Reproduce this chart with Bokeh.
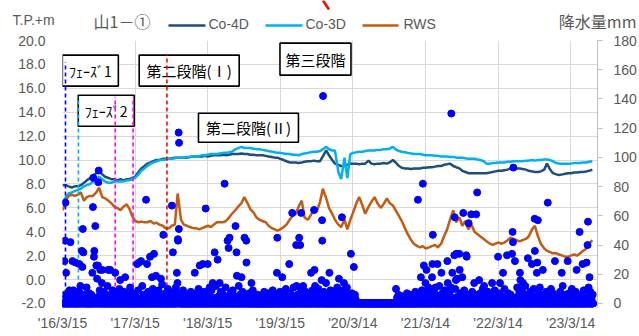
import pandas as pd
from bokeh.plotting import figure
from bokeh.layouts import column
from bokeh.models import (Range1d, LinearAxis, FixedTicker, PrintfTickFormatter, ColumnDataSource)
from bokeh.core.properties import value
from bokeh.embed import file_html
from bokeh.resources import INLINE

# ---------------- data ----------------
x_tick_dates = ["2016-03-15", "2017-03-15", "2018-03-15", "2019-03-15",
                "2020-03-14", "2021-03-14", "2022-03-14", "2023-03-14"]
x_tick_labels = ["'16/3/15", "'17/3/15", "'18/3/15", "'19/3/15",
                 "'20/3/14", "'21/3/14", "'22/3/14", "'23/3/14"]
left_ticks = [-2, 0, 2, 4, 6, 8, 10, 12, 14, 16, 18, 20]
right_ticks = [0, 20, 40, 60, 80, 100, 120, 140, 160, 180]

series_names = ["Co-4D", "Co-3D", "RWS"]

# water levels (T.P.+m), semi-monthly readings (1st / 15th)
co4d_2016 = [7.9, 7.9, 7.8, 7.7, 7.8, 7.8, 7.9, 8.1, 8.3, 8.5, 8.7, 8.9, 9.1, 8.8, 8.6, 8.5, 8.4, 8.4, 8.3]
co4d_2017 = [8.4, 8.3, 8.4, 8.4, 8.5, 8.6, 9.0, 9.3, 9.5, 9.7, 9.8, 9.9, 10.0, 10.0, 10.1, 10.1, 10.1, 10.15, 10.2, 10.2, 10.2, 10.2, 10.2, 10.25]
co4d_2018 = [10.3, 10.3, 10.3, 10.3, 10.35, 10.3, 10.35, 10.4, 10.4, 10.4, 10.45, 10.4, 10.45, 10.5, 10.5, 10.5, 10.55, 10.5, 10.5, 10.45, 10.45, 10.4, 10.4, 10.4]
co4d_2019 = [10.35, 10.3, 10.25, 10.2, 10.2, 10.1, 10.0, 9.9, 9.8, 9.8, 9.8, 9.75, 9.8, 9.85, 9.9, 9.9, 9.95, 9.9, 9.9, 10.3, 10.8, 10.4, 10.0, 9.7]
co4d_2020 = [9.6, 9.5, 9.5, 9.6, 9.7, 9.7, 9.7, 9.65, 9.7, 9.7, 9.95, 9.7, 9.65, 9.7, 9.7, 9.75, 9.7, 9.8, 10.0, 9.8, 9.5, 9.35, 9.3, 9.3]
co4d_2021 = [9.25, 9.3, 9.3, 9.3, 9.35, 9.35, 9.4, 9.4, 9.45, 9.5, 9.5, 9.6, 9.65, 9.7, 9.5, 9.4, 9.3, 9.1, 9.0, 8.9, 8.9, 8.9, 8.9, 8.9]
co4d_2022 = [8.9, 8.9, 8.95, 9.0, 9.05, 9.1, 9.1, 9.15, 9.2, 9.3, 9.35, 9.3, 9.3, 9.25, 9.2, 9.1, 9.05, 9.0, 9.0, 9.05, 9.2, 9.7, 9.2, 8.9]
co4d_2023 = [8.8, 8.75, 8.8, 8.85, 8.9, 8.9, 8.95, 8.95, 9.0, 9.0, 9.05, 9.1, 9.2]

co3d_2016 = [6.4, 6.9, 7.2, 7.3, 7.4, 7.5, 7.6, 7.8, 7.9, 8.0, 8.2, 8.4, 8.6, 8.4, 8.2, 8.1, 8.1, 8.2, 8.2]
co3d_2017 = [8.2, 8.2, 8.3, 8.3, 8.4, 8.5, 8.8, 9.1, 9.3, 9.5, 9.7, 9.8, 9.9, 10.0, 10.0, 10.05, 10.1, 10.1, 10.15, 10.2, 10.2, 10.2, 10.25, 10.25]
co3d_2018 = [10.3, 10.3, 10.35, 10.4, 10.4, 10.45, 10.5, 10.5, 10.5, 10.55, 10.6, 10.6, 10.65, 10.7, 10.9, 11.0, 11.1, 11.0, 11.0, 11.0, 10.95, 10.9, 10.9, 10.85]
co3d_2019 = [10.8, 10.75, 10.7, 10.65, 10.6, 10.6, 10.55, 10.5, 10.5, 10.45, 10.45, 10.4, 10.5, 10.55, 10.6, 10.65, 10.7, 10.7, 10.75, 10.9, 11.1, 10.9, 10.8, 10.8]
co3d_2020 = [9.0, 8.4, 10.2, 8.5, 10.5, 10.6, 10.65, 10.7, 10.7, 10.75, 10.8, 10.8, 10.8, 10.85, 10.85, 10.9, 10.9, 10.95, 11.1, 10.9, 10.75, 10.7, 10.65, 10.6]
co3d_2021 = [10.55, 10.5, 10.5, 10.5, 10.45, 10.4, 10.4, 10.4, 10.35, 10.35, 10.3, 10.3, 10.3, 10.25, 10.25, 10.2, 10.2, 10.2, 10.15, 10.1, 10.1, 10.1, 10.05, 10.0]
co3d_2022 = [9.9, 9.7, 9.7, 9.75, 9.75, 9.8, 9.8, 9.8, 9.85, 9.85, 9.9, 9.9, 9.9, 9.9, 9.95, 9.95, 10.0, 9.95, 10.0, 10.0, 10.05, 10.05, 10.0, 9.9]
co3d_2023 = [9.75, 9.7, 9.7, 9.7, 9.7, 9.7, 9.75, 9.75, 9.75, 9.8, 9.8, 9.85, 9.9]

rws_2016 = [5.8, 6.6, 7.0, 7.1, 7.0, 7.1, 7.3, 6.6, 6.9, 7.0, 7.0, 7.3, 7.7, 6.9, 6.8, 6.6, 6.4, 6.1, 6.0]
rws_2017 = [5.8, 6.1, 6.3, 5.9, 5.3, 4.9, 4.8, 4.85, 4.8, 4.8, 4.9, 4.7, 4.75, 4.6, 4.5, 4.3, 4.3, 4.5, 4.6, 7.2, 5.0, 4.6, 4.5, 4.4]
rws_2018 = [4.3, 4.3, 4.2, 4.3, 4.4, 4.5, 4.4, 4.6, 4.8, 4.8, 4.8, 4.9, 5.2, 5.5, 5.8, 6.1, 6.4, 6.9, 6.4, 5.9, 5.6, 5.2, 5.0, 4.9]
rws_2019 = [4.8, 4.5, 4.3, 4.2, 4.1, 4.2, 4.4, 4.6, 5.0, 5.3, 5.5, 6.1, 6.6, 5.2, 5.0, 5.4, 5.9, 5.7, 6.5, 7.6, 6.8, 6.0, 5.5, 5.0]
rws_2020 = [4.6, 4.4, 5.0, 4.2, 5.0, 5.6, 6.4, 6.9, 6.2, 5.5, 6.1, 6.5, 6.9, 6.4, 6.0, 6.3, 6.8, 6.4, 6.2, 5.8, 5.3, 4.9, 4.3, 3.8]
rws_2021 = [3.3, 3.0, 2.8, 2.7, 2.8, 2.6, 2.7, 2.8, 2.9, 2.7, 3.0, 3.6, 4.2, 5.0, 5.8, 4.8, 5.2, 4.5, 4.9, 4.2, 4.6, 4.0, 3.8, 3.6]
rws_2022 = [3.4, 3.2, 3.0, 2.9, 3.0, 3.1, 3.0, 3.1, 3.3, 3.5, 3.4, 3.3, 3.2, 3.3, 3.4, 3.6, 4.2, 4.5, 3.6, 3.0, 2.6, 2.4, 2.3, 2.2]
rws_2023 = [2.2, 2.1, 2.0, 1.9, 1.9, 2.0, 2.1, 2.0, 2.2, 2.4, 2.6, 3.0, 3.3]

# daily rainfall (mm); days not listed had no rain
rain_2016 = [("03-20", 3), ("03-25", 29), ("03-27", 6), ("03-28", 43), ("03-30", 69),
             ("04-02", 21), ("04-08", 2), ("04-13", 5), ("04-19", 9), ("04-24", 42), ("04-28", 3),
             ("05-02", 4), ("05-04", 29), ("05-09", 9), ("05-13", 7), ("05-19", 28), ("05-24", 2), ("05-30", 5),
             ("06-03", 3), ("06-07", 8), ("06-08", 27), ("06-13", 12), ("06-17", 4), ("06-20", 36), ("06-23", 25),
             ("06-25", 51), ("06-28", 35), ("06-30", 6),
             ("07-03", 5), ("07-09", 2), ("07-14", 11), ("07-21", 4), ("07-27", 7),
             ("08-02", 3), ("08-07", 6), ("08-12", 21), ("08-15", 66), ("08-17", 86), ("08-20", 32), ("08-22", 36),
             ("08-27", 53), ("08-30", 4),
             ("09-01", 26), ("09-05", 17), ("09-09", 26), ("09-11", 83), ("09-13", 91), ("09-15", 5), ("09-18", 9),
             ("09-21", 23), ("09-26", 3), ("09-29", 14),
             ("10-01", 23), ("10-05", 4), ("10-09", 8), ("10-17", 2), ("10-22", 6), ("10-27", 12), ("10-31", 23),
             ("11-03", 3), ("11-10", 23), ("11-16", 5), ("11-22", 9), ("11-28", 2),
             ("12-05", 21), ("12-10", 4), ("12-15", 7), ("12-21", 3), ("12-26", 10), ("12-30", 16)]
rain_2017 = [("01-05", 5), ("01-12", 3), ("01-19", 8), ("01-24", 18), ("01-29", 2),
             ("02-04", 6), ("02-10", 4), ("02-18", 11), ("02-25", 3),
             ("03-03", 7), ("03-09", 2), ("03-18", 5), ("03-25", 27), ("03-30", 9),
             ("04-04", 28), ("04-08", 3), ("04-14", 29), ("04-20", 12), ("04-26", 6),
             ("05-03", 4), ("05-09", 71), ("05-14", 27), ("05-19", 8), ("05-24", 3), ("05-29", 32),
             ("06-02", 6), ("06-08", 18), ("06-12", 10), ("06-18", 34), ("06-23", 4), ("06-28", 19), ("06-30", 7),
             ("07-05", 3), ("07-11", 9), ("07-17", 5), ("07-23", 17), ("07-29", 13),
             ("08-04", 47), ("08-09", 4), ("08-15", 7), ("08-20", 2), ("08-27", 10),
             ("09-03", 6), ("09-09", 3), ("09-16", 67), ("09-21", 35), ("09-27", 8),
             ("10-02", 5), ("10-06", 11), ("10-11", 21), ("10-14", 14), ("10-16", 44), ("10-17", 43),
             ("10-20", 117), ("10-21", 51), ("10-22", 110), ("10-27", 4), ("10-30", 7),
             ("11-04", 3), ("11-11", 9), ("11-18", 5), ("11-26", 2),
             ("12-03", 6), ("12-12", 4), ("12-20", 8), ("12-28", 3)]
rain_2018 = [("01-04", 4), ("01-09", 21), ("01-15", 7), ("01-22", 3), ("01-28", 10),
             ("02-03", 26), ("02-08", 5), ("02-13", 2), ("02-18", 27), ("02-24", 8),
             ("03-05", 65), ("03-09", 4), ("03-15", 27), ("03-20", 6), ("03-25", 11), ("03-29", 3),
             ("04-03", 9), ("04-09", 14), ("04-14", 4), ("04-19", 35), ("04-25", 12), ("04-29", 2),
             ("05-04", 30), ("05-09", 5), ("05-14", 14), ("05-20", 8), ("05-26", 3),
             ("06-02", 6), ("06-08", 82), ("06-13", 11), ("06-18", 4), ("06-23", 43), ("06-28", 38),
             ("07-03", 45), ("07-08", 7), ("07-13", 3), ("07-19", 9), ("07-26", 5),
             ("08-02", 53), ("08-07", 35), ("08-09", 19), ("08-13", 4), ("08-18", 12), ("08-24", 6), ("08-29", 2),
             ("09-01", 18), ("09-06", 8), ("09-11", 4), ("09-16", 45), ("09-21", 6), ("09-25", 43), ("09-26", 28),
             ("10-02", 3), ("10-09", 7), ("10-15", 4), ("10-21", 14), ("10-28", 9),
             ("11-05", 5), ("11-13", 3), ("11-22", 6),
             ("12-04", 2), ("12-12", 5), ("12-24", 8)]
rain_2019 = [("01-03", 4), ("01-11", 7), ("01-20", 3), ("01-27", 5),
             ("02-05", 9), ("02-14", 3), ("02-20", 6), ("02-26", 21), ("02-28", 45),
             ("03-04", 4), ("03-13", 8), ("03-19", 2), ("03-25", 18), ("03-30", 6),
             ("04-06", 3), ("04-12", 10), ("04-20", 5), ("04-24", 2), ("04-29", 27),
             ("05-04", 7), ("05-09", 4), ("05-14", 62), ("05-21", 11), ("05-27", 3),
             ("06-03", 40), ("06-05", 12), ("06-09", 6), ("06-12", 3), ("06-18", 45), ("06-23", 40),
             ("06-27", 9), ("06-28", 62),
             ("07-02", 5), ("07-08", 12), ("07-15", 4), ("07-22", 8), ("07-29", 3),
             ("08-05", 6), ("08-10", 2), ("08-17", 21), ("08-24", 9), ("08-29", 4),
             ("09-01", 64), ("09-03", 23), ("09-06", 12), ("09-10", 7), ("09-17", 3), ("09-23", 10), ("09-28", 5),
             ("10-04", 4), ("10-09", 16), ("10-11", 57), ("10-12", 43), ("10-16", 142), ("10-20", 8),
             ("10-25", 3), ("10-31", 14),
             ("11-05", 6), ("11-10", 3), ("11-17", 21), ("11-22", 9), ("11-28", 4),
             ("12-04", 5), ("12-11", 8), ("12-18", 3), ("12-26", 11)]
rain_2020 = [("01-04", 17), ("01-08", 6), ("01-13", 3), ("01-19", 59), ("01-24", 9), ("01-29", 14),
             ("02-03", 4), ("02-08", 7), ("02-13", 11), ("02-19", 3), ("02-25", 5),
             ("03-04", 34), ("03-09", 7), ("03-13", 4), ("03-19", 25), ("03-24", 6), ("03-28", 3),
             ("10-17", 10), ("10-22", 4), ("10-29", 6),
             ("11-12", 3), ("11-20", 5),
             ("12-03", 4), ("12-11", 7), ("12-18", 3), ("12-25", 6)]
rain_2021 = [("01-06", 3), ("01-14", 5), ("01-22", 8), ("01-28", 4),
             ("02-04", 71), ("02-09", 6), ("02-14", 3), ("02-19", 18), ("02-24", 9),
             ("03-01", 82), ("03-06", 26), ("03-09", 4), ("03-14", 14), ("03-19", 23), ("03-24", 7), ("03-29", 11),
             ("04-05", 5), ("04-10", 3), ("04-16", 18), ("04-18", 27), ("04-20", 47), ("04-24", 8), ("04-28", 2),
             ("05-03", 11), ("05-06", 6), ("05-13", 27), ("05-18", 4), ("05-23", 12), ("05-29", 3),
             ("06-02", 21), ("06-07", 7), ("06-12", 4), ("06-19", 9), ("06-26", 5),
             ("07-02", 29), ("07-04", 14), ("07-09", 3), ("07-14", 8), ("07-20", 11), ("07-22", 130), ("07-27", 21),
             ("08-03", 4), ("08-06", 33), ("08-08", 59), ("08-11", 10), ("08-14", 16), ("08-16", 34), ("08-21", 17),
             ("08-25", 5), ("08-31", 34),
             ("09-02", 23), ("09-06", 7), ("09-10", 3), ("09-15", 18), ("09-20", 62), ("09-25", 9), ("09-29", 4),
             ("10-05", 33), ("10-07", 32), ("10-11", 6), ("10-17", 55), ("10-24", 3), ("10-30", 61),
             ("11-04", 8), ("11-09", 4), ("11-14", 14), ("11-19", 6), ("11-24", 61), ("11-29", 76),
             ("12-02", 3), ("12-09", 16), ("12-14", 7), ("12-20", 4), ("12-27", 10)]
rain_2022 = [("01-03", 12), ("01-08", 5), ("01-15", 3), ("01-22", 8), ("01-29", 4),
             ("02-03", 6), ("02-12", 14), ("02-19", 3), ("02-25", 9),
             ("03-05", 4), ("03-14", 32), ("03-19", 7), ("03-24", 14), ("03-30", 3),
             ("04-03", 5), ("04-08", 21), ("04-15", 10), ("04-22", 4), ("04-28", 33),
             ("05-05", 7), ("05-11", 3), ("05-17", 6), ("05-23", 34), ("05-26", 49), ("05-28", 42), ("05-30", 93),
             ("06-07", 29), ("06-12", 4), ("06-18", 11), ("06-24", 5), ("06-29", 8),
             ("07-02", 21), ("07-04", 16), ("07-07", 3), ("07-12", 9), ("07-17", 14), ("07-24", 5), ("07-29", 12),
             ("08-04", 6), ("08-11", 31), ("08-17", 4), ("08-23", 8), ("08-31", 27),
             ("09-05", 5), ("09-09", 10), ("09-14", 58), ("09-15", 36), ("09-20", 3), ("09-25", 21),
             ("09-27", 28), ("09-30", 57),
             ("10-04", 7), ("10-10", 11), ("10-16", 4), ("10-25", 23), ("10-30", 6),
             ("11-06", 3), ("11-11", 8), ("11-19", 69), ("11-25", 5),
             ("12-05", 10), ("12-09", 4), ("12-15", 7), ("12-20", 3), ("12-25", 29)]
rain_2023 = [("01-06", 5), ("01-13", 3), ("01-20", 8), ("01-28", 21),
             ("02-02", 12), ("02-05", 4), ("02-17", 6), ("02-22", 3), ("02-27", 29),
             ("03-05", 7), ("03-12", 4), ("03-20", 10), ("03-27", 5),
             ("04-04", 3), ("04-08", 8), ("04-13", 23), ("04-20", 5), ("04-28", 49),
             ("05-03", 6), ("05-08", 3), ("05-13", 27), ("05-19", 9), ("05-26", 4),
             ("06-02", 28), ("06-07", 40), ("06-09", 56), ("06-12", 11), ("06-14", 5), ("06-17", 18),
             ("06-21", 8), ("06-27", 3),
             ("07-03", 6)]

phase_names = ["ﾌｪｰｽﾞ1", "ﾌｪｰｽﾞ2", "第二段階(Ⅰ)", "第三段階", "第二段階(Ⅱ)"]
phase_line_dates = ["2016-03-30", "2016-06-03", "2016-12-05", "2017-03-05", "2017-08-22"]

# ---------------- assemble ----------------
obs_dates = pd.date_range("2016-03-15", "2023-07-01", freq="SMS")
co4d = co4d_2016 + co4d_2017 + co4d_2018 + co4d_2019 + co4d_2020 + co4d_2021 + co4d_2022 + co4d_2023
co3d = co3d_2016 + co3d_2017 + co3d_2018 + co3d_2019 + co3d_2020 + co3d_2021 + co3d_2022 + co3d_2023
rws = rws_2016 + rws_2017 + rws_2018 + rws_2019 + rws_2020 + rws_2021 + rws_2022 + rws_2023
n = min(len(obs_dates), len(co4d), len(co3d), len(rws))
obs = obs_dates[:n]

rain_years = {2016: rain_2016, 2017: rain_2017, 2018: rain_2018, 2019: rain_2019,
              2020: rain_2020, 2021: rain_2021, 2022: rain_2022, 2023: rain_2023}
rain_events = {}
for yr, lst in rain_years.items():
    for md, mm in lst:
        rain_events[pd.Timestamp(f"{yr}-{md}")] = mm
rain_days = pd.date_range("2016-03-15", "2023-07-05", freq="D")
rain_x = list(rain_days)
rain_y = [rain_events.get(d, 0) for d in rain_days]

# ---------------- styling constants ----------------
JP = "Noto Sans CJK JP"
LAT = "Liberation Sans"
GRAY = "#595959"
GRID = "#D9D9D9"
C4 = "#1F4E79"
C3 = "#00B0F0"
CR = "#C55A11"
HEAD_H = 32

# ---------------- header strip (titles + legend) ----------------
head = figure(width=639, height=HEAD_H, x_range=Range1d(0, 639), y_range=Range1d(HEAD_H, 0),
              output_backend="svg", toolbar_location=None, frame_align=False,
              min_border=0, min_border_left=0, min_border_right=0,
              min_border_top=0, min_border_bottom=0,
              x_axis_location=None, y_axis_location=None)
head.grid.visible = False
head.outline_line_color = None
head.background_fill_color = "white"
head.border_fill_color = "white"

head.text(x=[12], y=[19.5], text=["T.P.+m"], text_font=value(LAT), text_font_size="14px",
          text_color=GRAY, text_align="left", text_baseline="middle")
head.text(x=[93], y=[20.3], text=["山1－①"], text_font=value(JP), text_font_size="16px",
          text_color=GRAY, text_align="left", text_baseline="middle")
head.text(x=[636], y=[20.3], text=["降水量mm"], text_font=value(JP), text_font_size="16px",
          text_color=GRAY, text_align="right", text_baseline="middle")
# fragment of a red call-out arrow at the top edge
head.line(x=[322.5, 328.5], y=[0, 9], line_color="#FF0000", line_width=2.5)

# legend (swatch + label for each series)
leg_src = ColumnDataSource(dict(
    x0=[168, 265, 362], x1=[205, 302, 398], ly=[25, 25, 25], ty=[23.8, 23.8, 23.8],
    tx=[208, 305, 403], label=series_names, c=[C4, C3, CR],
))
head.segment(x0="x0", y0="ly", x1="x1", y1="ly", source=leg_src, line_color="c", line_width=2.5)
head.text(x="tx", y="ty", text="label", source=leg_src, text_font=value(LAT),
          text_font_size="14px", text_color=GRAY, text_align="left", text_baseline="middle")

# ---------------- main chart ----------------
t0 = pd.Timestamp("2016-03-15")
t1 = pd.Timestamp("2023-07-27")
ymin = -2.335
p = figure(width=639, height=336 - HEAD_H, x_axis_type="datetime",
           x_range=Range1d(t0, t1), y_range=Range1d(ymin, 20),
           output_backend="svg", toolbar_location=None, frame_align=False,
           min_border_left=62, min_border_right=41, min_border_top=40 - HEAD_H, min_border_bottom=29)
p.extra_y_ranges = {"rain": Range1d((ymin + 2) * 180 / 22, 180)}
p.outline_line_color = None
p.background_fill_color = "white"
p.border_fill_color = "white"

tick_ms = [pd.Timestamp(d).value / 1e6 for d in x_tick_dates]
p.xaxis.ticker = FixedTicker(ticks=tick_ms)
p.xaxis.major_label_overrides = {t: l for t, l in zip(tick_ms, x_tick_labels)}
p.xaxis.axis_line_color = None
p.xaxis.major_tick_line_color = None
p.xaxis.major_tick_out = 0
p.xaxis.major_tick_in = 0
p.xaxis.minor_tick_line_color = None
p.xaxis.minor_tick_out = 0
p.xaxis.major_label_standoff = 7
p.xaxis.major_label_text_font = LAT
p.xaxis.major_label_text_font_size = "14px"
p.xaxis.major_label_text_color = GRAY

p.yaxis.ticker = FixedTicker(ticks=left_ticks)
p.yaxis.formatter = PrintfTickFormatter(format="%.1f")
p.yaxis.axis_line_color = None
p.yaxis.major_tick_line_color = None
p.yaxis.major_tick_out = 0
p.yaxis.major_tick_in = 0
p.yaxis.minor_tick_line_color = None
p.yaxis.minor_tick_out = 0
p.yaxis.major_label_standoff = 17
p.yaxis.major_label_text_font = LAT
p.yaxis.major_label_text_font_size = "14px"
p.yaxis.major_label_text_color = GRAY

ax_r = LinearAxis(y_range_name="rain", ticker=FixedTicker(ticks=right_ticks))
ax_r.axis_line_color = "#BFBFBF"
ax_r.major_tick_line_color = "#BFBFBF"
ax_r.major_tick_in = 0
ax_r.major_tick_out = 5
ax_r.minor_tick_line_color = None
ax_r.minor_tick_out = 0
ax_r.major_label_standoff = 11
ax_r.major_label_text_font = LAT
ax_r.major_label_text_font_size = "14px"
ax_r.major_label_text_color = GRAY
p.add_layout(ax_r, "right")

p.xgrid.grid_line_color = GRID
p.ygrid.grid_line_color = GRID

# water level lines
p.line(obs, co4d[:n], line_color=C4, line_width=2.5)
p.line(obs, co3d[:n], line_color=C3, line_width=2.5)
p.line(obs, rws[:n], line_color=CR, line_width=2.5)

# text boxes
box_src = ColumnDataSource(dict(
    x=[pd.Timestamp(d) for d in ["2016-08-02", "2016-10-21", "2017-12-12", "2019-09-08", "2018-10-06"]],
    y=[17.48, 14.12, 17.48, 18.44, 12.7],
    w=[56, 56, 100, 71, 100],
    h=[31, 31, 31, 32, 29],
    t=phase_names,
    fs=["14px", "14px", "15px", "15px", "15px"],
))
p.rect(x="x", y="y", width="w", height="h", width_units="screen", height_units="screen",
       source=box_src, fill_color="white", line_color="black", line_width=1.6)
p.text(x="x", y="y", text="t", source=box_src, text_font=value(JP), text_font_size="fs",
       text_align="center", text_baseline="middle", text_color="#000000")

# phase dashed lines
seg_src = ColumnDataSource(dict(
    x=[pd.Timestamp(d) for d in phase_line_dates],
    y0=[ymin] * 5,
    y1=[18.2, 15.3, 15.3, 15.3, 18.8],
    c=["#0000FF", "#00B0F0", "#FF00FF", "#FF00FF", "#FF0000"],
))
p.segment(x0="x", y0="y0", x1="x", y1="y1", source=seg_src, line_color="c",
          line_width=1.6, line_dash="4 3")

# rainfall
p.scatter(rain_x, rain_y, size=7, color="#0000FF", y_range_name="rain")

layout = column(head, p, spacing=0)
open("out.html", "w").write(file_html(layout, INLINE))
